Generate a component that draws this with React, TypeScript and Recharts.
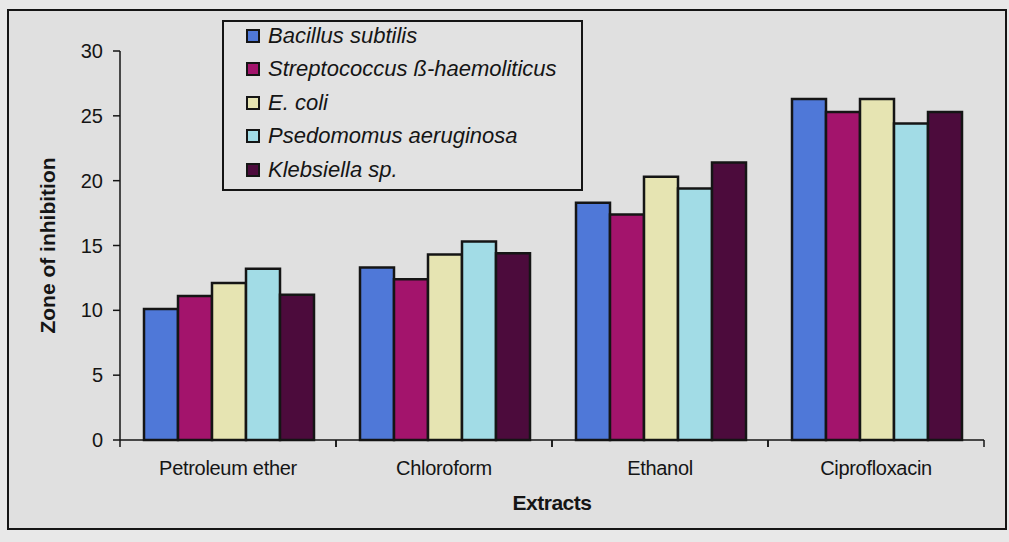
import React from "react";
import { BarChart, Bar, XAxis, YAxis, Legend } from "recharts";

const extracts = ["Petroleum ether", "Chloroform", "Ethanol", "Ciprofloxacin"];
const bacillus = [10.1, 13.3, 18.3, 26.3];
const strepto = [11.1, 12.4, 17.4, 25.3];
const ecoli = [12.1, 14.3, 20.3, 26.3];
const pseudo = [13.2, 15.3, 19.4, 24.4];
const klebs = [11.2, 14.4, 21.4, 25.3];
const yTicks = [0, 5, 10, 15, 20, 25, 30];

const series = [
  { key: "bacillus", name: "Bacillus subtilis", color: "#4f78d8", values: bacillus },
  { key: "strepto", name: "Streptococcus ß-haemoliticus", color: "#a3146c", values: strepto },
  { key: "ecoli", name: "E. coli", color: "#e6e4b2", values: ecoli },
  { key: "pseudo", name: "Psedomomus aeruginosa", color: "#a2dce6", values: pseudo },
  { key: "klebs", name: "Klebsiella sp.", color: "#4c0b3c", values: klebs },
];

const data = extracts.map((name, i) => {
  const row: Record<string, string | number> = { name };
  for (const s of series) row[s.key] = s.values[i];
  return row;
});

const FONT = '"Liberation Sans", Arial, sans-serif';
const INK = "#151515";

function ExtractTick(props: any) {
  const { x, y, payload } = props;
  const half = payload.offset ?? 108;
  return (
    <g>
      <line x1={x - half} x2={x - half} y1={y} y2={y + 7} stroke={INK} strokeWidth={1.5} />
      <line x1={x + half} x2={x + half} y1={y} y2={y + 7} stroke={INK} strokeWidth={1.5} />
      <text
        x={x}
        y={y + 35}
        textAnchor="middle"
        fontFamily={FONT}
        fontSize={20}
        letterSpacing={-0.3}
        fill={INK}
      >
        {payload.value}
      </text>
    </g>
  );
}

function YLabel(props: any) {
  const { viewBox } = props;
  const cx = viewBox.x + 17;
  const cy = viewBox.y + viewBox.height / 2;
  return (
    <text
      x={cx}
      y={cy}
      transform={`rotate(-90 ${cx} ${cy})`}
      textAnchor="middle"
      dominantBaseline="central"
      fontFamily={FONT}
      fontSize={21}
      fontWeight="bold"
      fill={INK}
    >
      Zone of inhibition
    </text>
  );
}

function LegendBox() {
  return (
    <div
      style={{
        boxSizing: "border-box",
        width: 361,
        height: 171,
        border: `2px solid ${INK}`,
        background: "#e2e2e2",
        paddingLeft: 22,
        fontFamily: FONT,
        fontSize: 22,
        fontStyle: "italic",
        color: INK,
      }}
    >
      <div style={{ marginTop: -3 }}>
        {series.map((s) => (
          <div key={s.key} style={{ display: "flex", alignItems: "center", height: 33.5 }}>
            <span
              style={{
                display: "inline-block",
                boxSizing: "border-box",
                width: 14,
                height: 14,
                background: s.color,
                border: `2px solid ${INK}`,
                marginRight: 8,
              }}
            />
            <span>{s.name}</span>
          </div>
        ))}
      </div>
    </div>
  );
}

export default function App() {
  return (
    <div style={{ position: "fixed", left: 0, top: 0, width: 1009, height: 542, background: "#e8e8e8" }}>
      <div
        style={{
          position: "absolute",
          left: 7,
          top: 9,
          width: 1000,
          height: 521,
          boxSizing: "border-box",
          border: `2px solid ${INK}`,
          background: "#e0e0e0",
        }}
      />
      <div style={{ position: "absolute", left: 0, top: 0 }}>
        <BarChart
          width={1009}
          height={542}
          data={data}
          margin={{ top: 51, right: 25, bottom: 22, left: 30 }}
          barCategoryGap={24}
          barGap={0}
        >
          <XAxis
            dataKey="name"
            height={80}
            tickLine={false}
            tickSize={0}
            tickMargin={0}
            axisLine={{ stroke: INK, strokeWidth: 1.5 }}
            tick={<ExtractTick />}
            interval={0}
            label={{
              value: "Extracts",
              position: "insideBottom",
              offset: 10,
              style: { fontFamily: FONT, fontSize: 21, fontWeight: "bold", fill: INK, letterSpacing: -0.5 },
            }}
          />
          <YAxis
            width={90}
            domain={[0, 30]}
            ticks={yTicks}
            interval={0}
            tickSize={7}
            tickMargin={10}
            tickLine={{ stroke: INK, strokeWidth: 1.5 }}
            axisLine={{ stroke: INK, strokeWidth: 1.5 }}
            tick={{ fontFamily: FONT, fontSize: 20, fill: INK }}
            label={<YLabel />}
          />
          <Legend
            layout="horizontal"
            verticalAlign="middle"
            align="center"
            content={() => <LegendBox />}
            wrapperStyle={{ position: "absolute", left: 222, top: 20, width: 361, height: 171 }}
          />
          {series.map((s) => (
            <Bar
              key={s.key}
              dataKey={s.key}
              name={s.name}
              fill={s.color}
              stroke={INK}
              strokeWidth={2.5}
              isAnimationActive={false}
            />
          ))}
        </BarChart>
      </div>
    </div>
  );
}
